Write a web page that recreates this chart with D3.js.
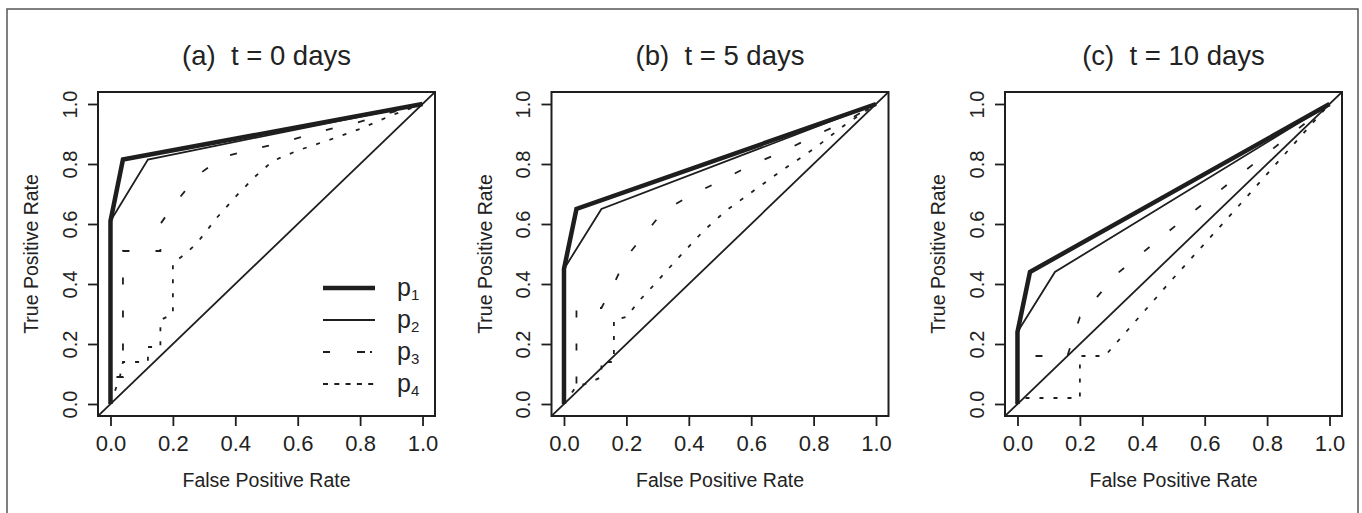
<!DOCTYPE html>
<html><head><meta charset="utf-8">
<script src="https://cdn.jsdelivr.net/npm/d3@7"></script>
<style>
body{margin:0;background:#fff}
svg{display:block}
text{font-family:"Liberation Sans",Arial,Helvetica,sans-serif;fill:#222}
</style>
</head><body>
<svg id="c" width="1362" height="513"></svg>
<script>
// ---- data ----
const titles = ["(a)  t = 0 days", "(b)  t = 5 days", "(c)  t = 10 days"];
const tickValues = [0, 0.2, 0.4, 0.6, 0.8, 1.0];
const tickLabels = ["0.0", "0.2", "0.4", "0.6", "0.8", "1.0"];
const seriesNames = ["p1", "p2", "p3", "p4"];
const xLabel = "False Positive Rate";
const yLabel = "True Positive Rate";

// t = 0 days  ([FPR, TPR] pairs)
const p1_t0 = [[0,0],[0,0.61],[0.04,0.815],[1,1]];
const p2_t0 = [[0,0],[0,0.61],[0.12,0.815],[1,1]];
const p3_t0 = [[0,0],[0,0.09],[0.04,0.09],[0.04,0.51],[0.16,0.51],[0.16,0.6],[0.2,0.66],[0.28,0.763],[0.36,0.824],[0.47,0.852],[0.58,0.88],[0.67,0.908],[0.79,0.938],[0.89,0.969],[1,1]];
const p4_t0 = [[0,0],[0.03,0.09],[0.04,0.14],[0.12,0.14],[0.12,0.19],[0.16,0.19],[0.16,0.28],[0.2,0.3],[0.2,0.47],[0.24,0.5],[0.28,0.54],[0.34,0.62],[0.4,0.69],[0.46,0.755],[0.52,0.81],[0.6,0.845],[0.7,0.88],[0.8,0.917],[0.9,0.962],[1,1]];

// t = 5 days
const p1_t5 = [[0,0],[0,0.45],[0.04,0.65],[1,1]];
const p2_t5 = [[0,0],[0,0.45],[0.12,0.65],[1,1]];
const p3_t5 = [[0,0],[0,0.04],[0.04,0.04],[0.04,0.32],[0.12,0.32],[0.16,0.4],[0.2,0.49],[0.32,0.645],[0.41,0.697],[0.5,0.743],[0.6,0.797],[0.7,0.84],[0.8,0.893],[0.9,0.94],[1,1]];
const p4_t5 = [[0,0],[0.04,0.06],[0.08,0.07],[0.12,0.09],[0.12,0.14],[0.16,0.14],[0.16,0.28],[0.2,0.29],[0.24,0.343],[0.3,0.41],[0.36,0.48],[0.45,0.58],[0.52,0.645],[0.6,0.705],[0.7,0.78],[0.8,0.85],[0.9,0.93],[1,1]];

// t = 10 days
const p1_t10 = [[0,0],[0,0.24],[0.04,0.44],[1,1]];
const p2_t10 = [[0,0],[0,0.24],[0.12,0.44],[1,1]];
const p3_t10 = [[0,0],[0,0.16],[0.16,0.16],[0.2,0.29],[0.32,0.435],[0.48,0.572],[0.65,0.713],[0.82,0.852],[1,1]];
const p4_t10 = [[0,0],[0,0.02],[0.2,0.02],[0.2,0.16],[0.28,0.16],[0.5,0.42],[0.7,0.65],[1,1]];

const panels = [
  [p1_t0, p2_t0, p3_t0, p4_t0],
  [p1_t5, p2_t5, p3_t5, p4_t5],
  [p1_t10, p2_t10, p3_t10, p4_t10]
];

// ---- styles / layout ----
const ink = "#1e1e1e";
const lineStyles = [
  {w: 4.5, dash: null, legendDash: null},
  {w: 1.8, dash: null, legendDash: null},
  {w: 1.8, dash: "7,26", legendDash: "7,27,8,5,2,60"},
  {w: 1.8, dash: "4,10", legendDash: "5,6.3"}
];
const boxLeft0 = 98, boxW = 337, step = 453.5, boxTop = 92, boxBottom = 416;

const svg = d3.select("#c");

// outer frame
svg.append("rect").attr("x", 7).attr("y", 9).attr("width", 1351).attr("height", 530)
  .attr("fill", "none").attr("stroke", "#555").attr("stroke-width", 1.5);

panels.forEach((series, pi) => {
  const left = boxLeft0 + pi * step;
  const x = d3.scaleLinear().domain([-0.04, 1.04]).range([left, left + boxW]);
  const y = d3.scaleLinear().domain([-0.04, 1.04]).range([boxBottom, boxTop]);
  const g = svg.append("g");
  const clipId = "clip" + pi;
  svg.append("clipPath").attr("id", clipId).append("rect")
    .attr("x", left).attr("y", boxTop).attr("width", boxW).attr("height", boxBottom - boxTop);

  const line = d3.line().x(d => x(d[0])).y(d => y(d[1]));
  const plot = g.append("g").attr("clip-path", `url(#${clipId})`);

  // chance diagonal (abline 0,1)
  plot.append("path").datum([[-0.04, -0.04], [1.04, 1.04]]).attr("d", line)
    .attr("fill", "none").attr("stroke", ink).attr("stroke-width", 1.8);

  // series (draw thinner first, thick last)
  [3, 2, 1, 0].forEach(si => {
    const st = lineStyles[si];
    plot.append("path").datum(series[si]).attr("d", line)
      .attr("fill", "none").attr("stroke", ink).attr("stroke-width", st.w)
      .attr("stroke-linejoin", "miter").attr("stroke-linecap", "butt")
      .attr("stroke-dasharray", st.dash);
  });

  // box
  g.append("rect").attr("x", left).attr("y", boxTop).attr("width", boxW).attr("height", boxBottom - boxTop)
    .attr("fill", "none").attr("stroke", ink).attr("stroke-width", 2);

  // x axis
  const xa = g.append("g").attr("transform", `translate(0,${boxBottom})`)
    .call(d3.axisBottom(x).tickValues(tickValues).tickFormat((d, i) => tickLabels[i]).tickSize(10).tickPadding(9));
  xa.select(".domain").remove();
  xa.selectAll("line").attr("stroke", ink).attr("stroke-width", 1.8);
  xa.selectAll("text").attr("font-size", 22).attr("fill", "#222")
    .style("font-family", '"Liberation Sans",Arial,Helvetica,sans-serif');

  // y axis
  const ya = g.append("g").attr("transform", `translate(${left},0)`)
    .call(d3.axisLeft(y).tickValues(tickValues).tickFormat((d, i) => tickLabels[i]).tickSize(10));
  ya.select(".domain").remove();
  ya.selectAll("line").attr("stroke", ink).attr("stroke-width", 1.8);
  ya.selectAll("text").attr("font-size", 20).attr("fill", "#222")
    .style("font-family", '"Liberation Sans",Arial,Helvetica,sans-serif')
    .attr("x", null).attr("dy", "0.36em").attr("text-anchor", "middle")
    .attr("transform", "translate(-28.5,0) rotate(-90)");

  // labels
  g.append("text").attr("x", left + boxW / 2).attr("y", 487).attr("text-anchor", "middle")
    .attr("font-size", 19.5).text(xLabel);
  g.append("text").attr("transform", `translate(${left - 60},${(boxTop + boxBottom) / 2}) rotate(-90)`)
    .attr("text-anchor", "middle").attr("font-size", 19.5).text(yLabel);
  g.append("text").attr("x", left + boxW / 2).attr("y", 65).attr("text-anchor", "middle")
    .attr("font-size", 27.5).style("white-space", "pre").text(titles[pi]);

  // legend (panel a only)
  if (pi === 0) {
    const lg = g.append("g");
    const rowY = [288, 320, 352, 384];
    seriesNames.forEach((nm, si) => {
      const st = lineStyles[si];
      lg.append("line").attr("x1", 323).attr("x2", 375).attr("y1", rowY[si]).attr("y2", rowY[si])
        .attr("stroke", ink).attr("stroke-width", st.w).attr("stroke-dasharray", st.legendDash);
      const t = lg.append("text").attr("x", 397).attr("y", rowY[si] + 8).attr("font-size", 25);
      t.append("tspan").text(nm.charAt(0));
      t.append("tspan").attr("font-size", 15).attr("dy", 4).text(nm.slice(1));
    });
  }
});
</script>
</body></html>
